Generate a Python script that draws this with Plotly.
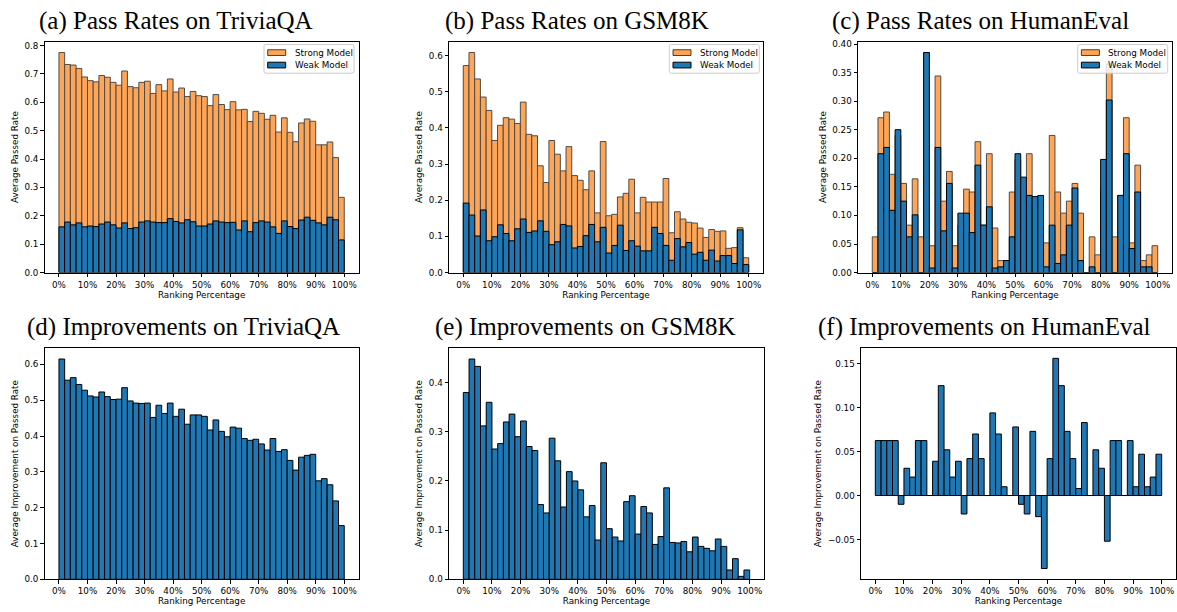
import plotly.graph_objects as go

W, H = 1177, 612

# ---------------- data ----------------
rank_start = list(range(0, 100, 2))          # left edge of each 2% ranking bin
x_tick_vals = [0, 10, 20, 30, 40, 50, 60, 70, 80, 90, 100]
x_tick_text = ["0%", "10%", "20%", "30%", "40%", "50%", "60%", "70%", "80%", "90%", "100%"]

strong_trivia = [0.775, 0.733, 0.731, 0.719, 0.689, 0.676, 0.672, 0.694, 0.688, 0.670,
                 0.660, 0.710, 0.655, 0.651, 0.670, 0.674, 0.631, 0.662, 0.640, 0.682,
                 0.636, 0.650, 0.620, 0.638, 0.623, 0.620, 0.588, 0.627, 0.592, 0.574,
                 0.602, 0.573, 0.575, 0.532, 0.568, 0.561, 0.540, 0.554, 0.495, 0.545,
                 0.494, 0.461, 0.527, 0.541, 0.533, 0.450, 0.450, 0.460, 0.405, 0.265]
weak_trivia = [0.161, 0.178, 0.168, 0.175, 0.161, 0.164, 0.162, 0.171, 0.178, 0.168,
               0.157, 0.175, 0.155, 0.158, 0.178, 0.182, 0.178, 0.176, 0.176, 0.190,
               0.180, 0.175, 0.186, 0.179, 0.164, 0.164, 0.171, 0.182, 0.178, 0.176,
               0.177, 0.150, 0.182, 0.144, 0.176, 0.182, 0.178, 0.161, 0.138, 0.182,
               0.162, 0.155, 0.185, 0.195, 0.184, 0.175, 0.168, 0.195, 0.186, 0.115]
improve_trivia = [0.615, 0.556, 0.563, 0.544, 0.528, 0.512, 0.509, 0.523, 0.510, 0.502,
                  0.503, 0.535, 0.498, 0.492, 0.491, 0.492, 0.452, 0.486, 0.463, 0.492,
                  0.455, 0.475, 0.433, 0.459, 0.459, 0.455, 0.417, 0.445, 0.413, 0.398,
                  0.425, 0.422, 0.393, 0.388, 0.391, 0.378, 0.361, 0.393, 0.357, 0.362,
                  0.332, 0.305, 0.341, 0.346, 0.349, 0.275, 0.281, 0.264, 0.219, 0.150]

strong_gsm = [0.572, 0.608, 0.535, 0.485, 0.448, 0.365, 0.407, 0.428, 0.424, 0.412,
              0.471, 0.382, 0.378, 0.295, 0.249, 0.365, 0.327, 0.281, 0.348, 0.268,
              0.255, 0.229, 0.281, 0.165, 0.362, 0.157, 0.161, 0.209, 0.219, 0.258,
              0.165, 0.208, 0.195, 0.195, 0.195, 0.260, 0.110, 0.168, 0.148, 0.139,
              0.137, 0.123, 0.097, 0.119, 0.114, 0.115, 0.067, 0.069, 0.124, 0.041]
weak_gsm = [0.192, 0.159, 0.101, 0.173, 0.088, 0.099, 0.132, 0.108, 0.088, 0.121,
            0.148, 0.111, 0.115, 0.143, 0.114, 0.077, 0.085, 0.133, 0.129, 0.068,
            0.072, 0.102, 0.133, 0.085, 0.125, 0.054, 0.075, 0.131, 0.061, 0.088,
            0.073, 0.060, 0.060, 0.125, 0.108, 0.075, 0.034, 0.094, 0.071, 0.083,
            0.051, 0.056, 0.034, 0.062, 0.032, 0.047, 0.047, 0.025, 0.118, 0.022]
improve_gsm = [0.380, 0.448, 0.433, 0.312, 0.360, 0.265, 0.276, 0.320, 0.336, 0.290,
               0.322, 0.270, 0.262, 0.152, 0.135, 0.287, 0.241, 0.147, 0.219, 0.200,
               0.182, 0.127, 0.150, 0.080, 0.237, 0.103, 0.086, 0.078, 0.158, 0.170,
               0.092, 0.148, 0.135, 0.071, 0.087, 0.186, 0.075, 0.074, 0.077, 0.056,
               0.086, 0.067, 0.063, 0.058, 0.082, 0.067, 0.019, 0.042, 0.006, 0.019]

strong_human = [0.0625, 0.271, 0.281, 0.172, 0.240, 0.156, 0.083, 0.164, 0.0625, 0.385,
                0.047, 0.344, 0.125, 0.177, 0.047, 0.083, 0.146, 0.141, 0.229, 0.083,
                0.208, 0.078, 0.021, 0.021, 0.141, 0.198, 0.146, 0.208, 0.109, 0.052,
                0.052, 0.240, 0.141, 0.104, 0.125, 0.156, 0.104, 0.0, 0.0625, 0.031,
                0.146, 0.365, 0.0625, 0.135, 0.271, 0.052, 0.188, 0.021, 0.031, 0.047]
weak_human = [0.0, 0.208, 0.219, 0.109, 0.250, 0.125, 0.0625, 0.101, 0.0, 0.385,
              0.008, 0.219, 0.073, 0.156, 0.008, 0.104, 0.104, 0.070, 0.188, 0.083,
              0.115, 0.008, 0.010, 0.021, 0.0625, 0.208, 0.167, 0.135, 0.133, 0.135,
              0.010, 0.083, 0.016, 0.031, 0.083, 0.148, 0.021, 0.0, 0.010, 0.0,
              0.198, 0.302, 0.0, 0.135, 0.208, 0.042, 0.141, 0.010, 0.010, 0.0]
improve_human = [0.0625, 0.0625, 0.0625, 0.0625, -0.010, 0.031, 0.021, 0.0625, 0.0625, 0.0,
                 0.039, 0.125, 0.052, 0.021, 0.039, -0.021, 0.042, 0.070, 0.042, 0.0,
                 0.094, 0.070, 0.010, 0.0, 0.078, -0.010, -0.021, 0.073, -0.024, -0.083,
                 0.042, 0.156, 0.125, 0.073, 0.042, 0.008, 0.083, 0.0, 0.052, 0.031,
                 -0.052, 0.0625, 0.0625, 0.0, 0.0625, 0.010, 0.047, 0.010, 0.021, 0.047]

titles = ["(a) Pass Rates on TriviaQA", "(b) Pass Rates on GSM8K", "(c) Pass Rates on HumanEval",
          "(d) Improvements on TriviaQA", "(e) Improvements on GSM8K", "(f) Improvements on HumanEval"]
series_names = ["Strong Model", "Weak Model"]

# ---------------- styling / layout ----------------
BLUE = "#1f77b4"
ORANGE = "#ff7f0e"
ORANGE_A = "rgba(255,127,14,0.7)"
SMALL = dict(family="DejaVu Sans", size=8.75, color="black")
TITLE_FONT = dict(family="Liberation Serif", size=25, color="black")

# axes boxes in pixels: (left, right, top, bottom)
boxes = [(44.7, 358.5, 40, 273.7), (449, 763, 40, 273.7), (858, 1172, 40, 273.7),
         (44.7, 358.5, 350, 584), (449, 764, 350, 584), (861, 1176, 350, 584)]
title_pos = [(176, 19), (577, 19), (980, 19), (183, 329), (585, 329), (984, 329)]
y_ranges = [[0, 0.8138], [0, 0.6384], [0, 0.4043], [0, 0.6458], [0, 0.4704], [-0.0953, 0.1678]]
y_dticks = [0.1, 0.1, 0.05, 0.1, 0.1, 0.05]
y_formats = [".1f", ".1f", ".2f", ".1f", ".1f", ".2f"]
y_titles = ["Average Passed Rate"] * 3 + ["Average Improvement on Passed Rate"] * 3

fig = go.Figure()


def bar(vals, color, idx, name=None, opacity=1.0):
    suffix = "" if idx == 0 else str(idx + 1)
    return go.Bar(
        x=rank_start, y=vals, width=2, offset=0,
        marker=dict(color=color, line=dict(color="black", width=1)),
        opacity=opacity, name=name, showlegend=False,
        xaxis="x" + suffix, yaxis="y" + suffix,
    )


pairs = [(strong_trivia, weak_trivia), (strong_gsm, weak_gsm), (strong_human, weak_human)]
for i, (s, w) in enumerate(pairs):
    fig.add_trace(bar(s, ORANGE, i, series_names[0], opacity=0.7))
    fig.add_trace(bar(w, BLUE, i, series_names[1]))
for j, imp in enumerate([improve_trivia, improve_gsm, improve_human]):
    fig.add_trace(bar(imp, BLUE, 3 + j))

layout = dict(
    width=W, height=H, margin=dict(l=0, r=0, t=0, b=0),
    paper_bgcolor="white", plot_bgcolor="white", barmode="overlay",
    font=SMALL, annotations=[], shapes=[],
)

for i, (l, r, t, b) in enumerate(boxes):
    suffix = "" if i == 0 else str(i + 1)
    common = dict(showline=True, linecolor="black", linewidth=1, mirror=True,
                  ticks="outside", ticklen=3.5, tickwidth=0.8, tickcolor="black",
                  showgrid=False, zeroline=False, tickfont=SMALL)
    layout["xaxis" + suffix] = dict(
        domain=[l / W, r / W], anchor="y" + suffix, range=[-5, 105],
        tickmode="array", tickvals=x_tick_vals, ticktext=x_tick_text,
        title=dict(text="Ranking Percentage", font=SMALL, standoff=2), **common)
    layout["yaxis" + suffix] = dict(
        domain=[1 - b / H, 1 - t / H], anchor="x" + suffix, range=y_ranges[i],
        tick0=0, dtick=y_dticks[i], tickformat=y_formats[i],
        title=dict(text=y_titles[i], font=SMALL, standoff=4), **common)
    tx, ty = title_pos[i]
    layout["annotations"].append(dict(
        text=titles[i], x=tx / W, y=1 - ty / H, xref="paper", yref="paper",
        xanchor="center", yanchor="middle", showarrow=False, font=TITLE_FONT))

# matplotlib-style legends (compact boxes) in the upper-right of the top panels
legend_right = [354, 759.3, 1167.7]


def px(xp, yp):
    return f"{xp / W:.6f},{1 - yp / H:.6f}"


for rgt in legend_right:
    lft, top, bot, rad = rgt - 90, 43, 72, 2
    path = (f"M {px(lft + rad, top)} L {px(rgt - rad, top)} Q {px(rgt, top)} {px(rgt, top + rad)} "
            f"L {px(rgt, bot - rad)} Q {px(rgt, bot)} {px(rgt - rad, bot)} "
            f"L {px(lft + rad, bot)} Q {px(lft, bot)} {px(lft, bot - rad)} "
            f"L {px(lft, top + rad)} Q {px(lft, top)} {px(lft + rad, top)} Z")
    layout["shapes"].append(dict(type="path", path=path, xref="paper", yref="paper",
                                 fillcolor="rgba(255,255,255,0.8)",
                                 line=dict(color="#cccccc", width=1), layer="above"))
    for k, (fill, edge, yc) in enumerate([(ORANGE_A, "rgba(0,0,0,0.7)", 51.2),
                                          (BLUE, "black", 63.8)]):
        layout["shapes"].append(dict(
            type="rect", xref="paper", yref="paper",
            x0=(rgt - 86.3) / W, x1=(rgt - 68.3) / W,
            y0=1 - (yc + 2.9) / H, y1=1 - (yc - 2.9) / H,
            fillcolor=fill, line=dict(color=edge, width=1), layer="above"))
        layout["annotations"].append(dict(
            text=series_names[k], x=(rgt - 61.3) / W, y=1 - yc / H,
            xref="paper", yref="paper", xanchor="left", yanchor="middle",
            showarrow=False, font=SMALL))

fig.update_layout(**layout)
fig.write_html("out.html")
